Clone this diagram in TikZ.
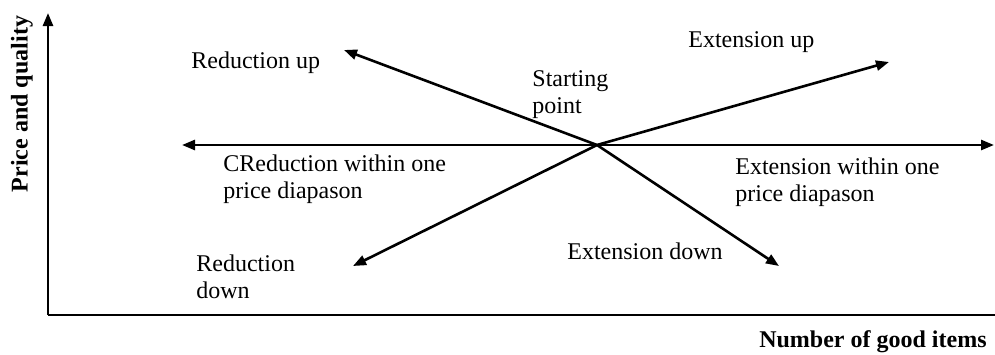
\documentclass[tikz,border=0pt]{standalone}
\usepackage{fontspec}
\setmainfont{Liberation Serif}
\usetikzlibrary{arrows.meta}
\newcommand{\twolines}[2]{\begin{tabular}[t]{@{}l@{}}#1\\#2\end{tabular}}
\begin{document}
\begin{tikzpicture}[x=0.5pt, y=-0.5pt,
  axis/.style={line width=1.3pt},
  arr/.style={line width=1.3pt, -{Triangle[length=6.5pt,width=5pt]}},
  lbl/.style={anchor=base west, inner sep=0pt, font=\fontsize{12}{13.5}\selectfont},
  axlbl/.style={inner sep=0pt, font=\fontsize{12}{13.5}\selectfont\bfseries}]
\useasboundingbox (0,0) rectangle (995,354);

% axes
\coordinate (O) at (48,315);
\coordinate (ytop) at (48,13);
\coordinate (xend) at (995,315);
\draw[arr] (O) -- (ytop);
\draw[axis] (O) -- (xend);

% starting point and directions
\coordinate (start) at (597,145);
\coordinate (redup) at (344,50);
\coordinate (extup) at (889,62);
\coordinate (extdown) at (779,266);
\coordinate (reddown) at (353,266);
\coordinate (hleft) at (182,145);
\coordinate (hright) at (994,145);

\draw[arr] (start) -- (redup);
\draw[arr] (start) -- (extup);
\draw[arr] (start) -- (extdown);
\draw[arr] (start) -- (reddown);
\draw[arr, {Triangle[length=6.5pt,width=5pt]}-{Triangle[length=6.5pt,width=5pt]}] (hleft) -- (hright);

% labels
\node[lbl] (lredup) at (191,68) {Reduction up};
\node[lbl] (lstart) at (532,86) {\twolines{Starting}{point}};
\node[lbl] (lextup) at (688,47) {Extension up};
\node[lbl] (lredin) at (223,171) {\twolines{CReduction within one}{price diapason}};
\node[lbl] (lextin) at (735,174) {\twolines{Extension within one}{price diapason}};
\node[lbl] (lextdown) at (567,259) {Extension down};
\node[lbl] (lreddown) at (196,271) {\twolines{Reduction}{down}};

% axis titles
\node[axlbl, anchor=base east] (xlbl) at (987,347) {Number of good items};
\node[axlbl, rotate=90] (ylbl) at (22,104) {Price and quality};
\end{tikzpicture}
\end{document}
